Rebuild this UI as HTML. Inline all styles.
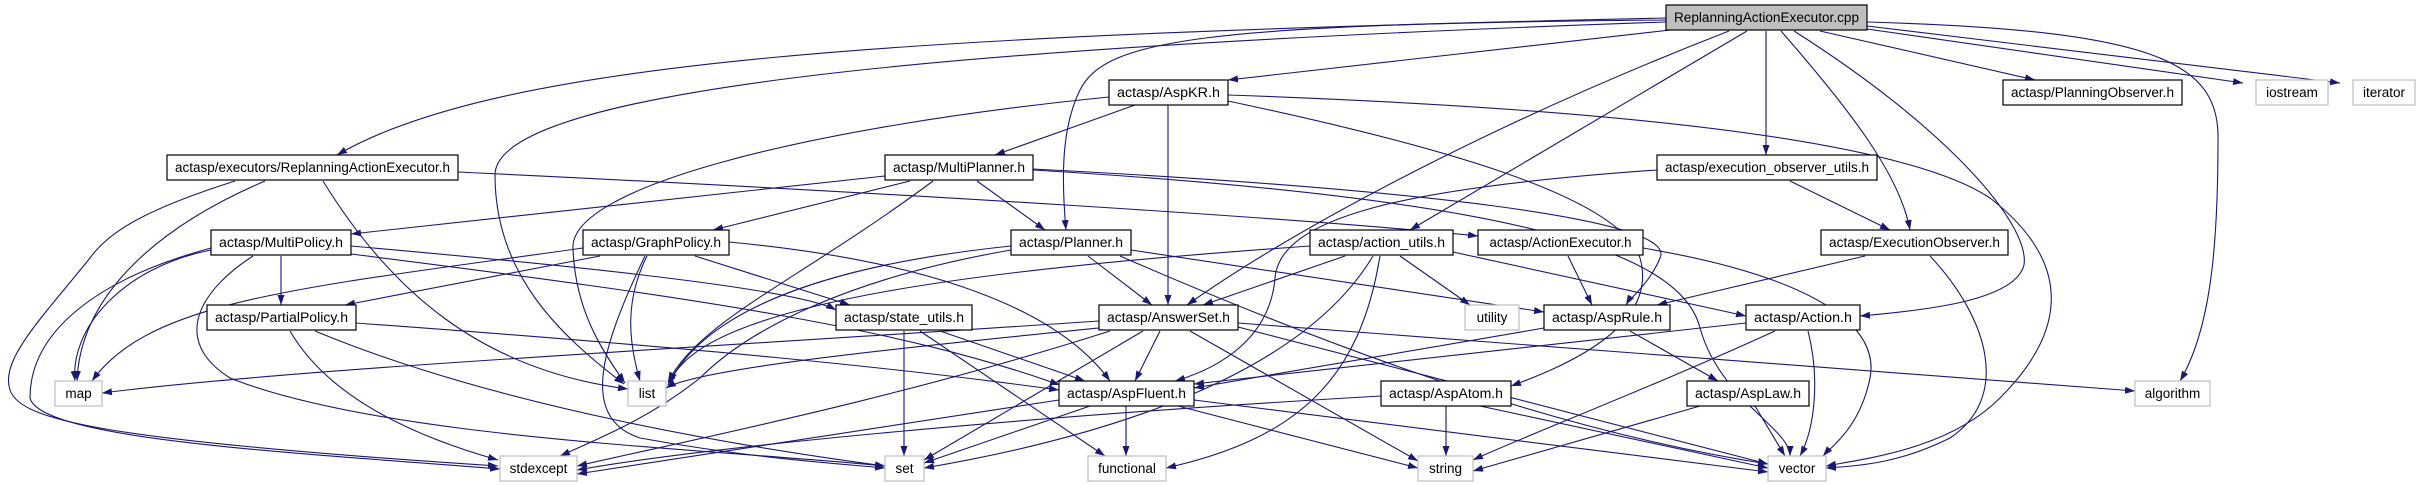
<!DOCTYPE html>
<html><head><meta charset="utf-8"><style>
html,body{margin:0;padding:0;background:#fff;}
svg{display:block;}
text{font-family:"Liberation Sans",sans-serif;font-size:13.5px;fill:#000;text-anchor:middle;}
.n{fill:#fff;stroke:#000;stroke-width:1.2;}
.g{fill:#fff;stroke:#bfbfbf;stroke-width:1.2;}
.m{fill:#bfbfbf;stroke:#000;stroke-width:1.2;}
path.e{fill:none;stroke:#191970;stroke-width:1.1;marker-end:url(#a);}
</style></head><body>
<svg width="2422" height="485" viewBox="0 0 2422 485" xmlns="http://www.w3.org/2000/svg">
<defs><marker id="a" markerUnits="userSpaceOnUse" markerWidth="11" markerHeight="8" refX="10" refY="3.5" orient="auto"><path d="M0,0 L10,3.5 L0,7 z" fill="#191970"/></marker></defs>
<g>
<!-- cpp -->
<path class="e" d="M1666,18 C900,35 500,60 337,155"/>
<path class="e" d="M1666,22 C1000,45 495,85 495,175 C495,275 560,335 624,384"/>
<path class="e" d="M1666,20 C1200,24 1105,40 1080,90 C1060,130 1062,185 1066,230"/>
<path class="e" d="M1670,30 L1228,80"/>
<path class="e" d="M1729,31 C1500,120 1300,225 1187,305"/>
<path class="e" d="M1747,31 L1410,230"/>
<path class="e" d="M1766,31 L1766,155"/>
<path class="e" d="M1781,31 C1850,110 1900,175 1910,230"/>
<path class="e" d="M1794,31 C1950,130 2030,225 2024,265 C2015,300 1930,310 1860,316"/>
<path class="e" d="M1820,31 L2035,80"/>
<path class="e" d="M1867,29 L2243,83"/>
<path class="e" d="M1867,26 L2340,83"/>
<path class="e" d="M1867,22 C2150,30 2220,60 2218,140 C2218,250 2210,330 2180,381"/>
<!-- RAE -->
<path class="e" d="M265,181 C150,230 80,300 77,381"/>
<path class="e" d="M235,181 C150,208 110,230 90,258 C40,320 0,360 10,390 C20,420 100,440 498,466"/>
<path class="e" d="M323,181 C390,290 480,370 628,389"/>
<path class="e" d="M458,172 C900,193 1300,218 1478,236"/>
<!-- MultiPlanner -->
<path class="e" d="M885,176 L351,234"/>
<path class="e" d="M910,181 L713,230"/>
<path class="e" d="M977,181 L1045,230"/>
<path class="e" d="M933,181 C800,280 700,320 668,382"/>
<path class="e" d="M1033,169 C1400,188 1680,218 1660,258 C1650,283 1630,298 1626,305"/>
<path class="e" d="M1033,170 C1500,198 1680,248 1700,328 C1720,400 1790,428 1790,456"/>
<!-- MultiPolicy -->
<path class="e" d="M211,250 C120,268 70,330 75,381"/>
<path class="e" d="M211,248 C100,278 30,330 30,398 C40,440 300,453 500,469"/>
<path class="e" d="M281,256 L281,305"/>
<path class="e" d="M253,256 C200,290 170,340 230,378 C380,438 700,448 885,466"/>
<path class="e" d="M351,246 C600,268 800,290 836,310"/>
<path class="e" d="M351,254 C700,298 900,328 1060,385"/>
<!-- GraphPolicy -->
<path class="e" d="M583,248 C300,288 150,300 92,381"/>
<path class="e" d="M600,256 L345,305"/>
<path class="e" d="M647,256 C625,300 628,340 640,381"/>
<path class="e" d="M645,256 C600,350 580,418 640,438 C750,458 830,463 885,468"/>
<path class="e" d="M695,256 L850,305"/>
<path class="e" d="M729,242 C900,258 1050,298 1110,381"/>
<!-- PartialPolicy -->
<path class="e" d="M290,331 C330,400 420,438 498,460"/>
<path class="e" d="M315,331 C500,408 750,448 885,466"/>
<path class="e" d="M356,323 C700,348 900,368 1059,390"/>
<!-- Planner -->
<path class="e" d="M1088,256 L1152,305"/>
<path class="e" d="M1131,250 L1544,312"/>
<path class="e" d="M1011,246 C800,268 700,320 668,385"/>
<path class="e" d="M1011,250 C850,278 750,328 700,378 C650,418 600,438 560,456"/>
<path class="e" d="M1120,256 C1400,378 1600,438 1768,464"/>
<!-- AspKR -->
<path class="e" d="M1135,105 L995,155"/>
<path class="e" d="M1168,105 L1168,305"/>
<path class="e" d="M1109,97 C800,128 570,188 573,248 C575,308 600,348 625,383"/>
<path class="e" d="M1228,101 C1450,148 1620,198 1640,258 C1660,328 1560,368 1511,386"/>
<path class="e" d="M1228,95 C1600,108 1900,138 1990,198 C2080,268 2060,338 2000,398 C1950,448 1870,458 1826,466"/>
<!-- action_utils -->
<path class="e" d="M1345,256 L1203,305"/>
<path class="e" d="M1400,256 L1470,305"/>
<path class="e" d="M1453,252 L1746,316"/>
<path class="e" d="M1310,246 C1000,268 700,300 670,383"/>
<path class="e" d="M1373,256 C1300,378 1100,438 924,468"/>
<path class="e" d="M1380,256 C1360,378 1300,438 1166,468"/>
<!-- ActionExecutor -->
<path class="e" d="M1568,256 L1592,305"/>
<path class="e" d="M1643,248 C1820,278 1880,328 1870,378 C1860,428 1830,448 1823,456"/>
<!-- exec obs utils -->
<path class="e" d="M1790,181 L1890,230"/>
<path class="e" d="M1657,170 C1400,188 1280,218 1275,278 C1270,338 1220,368 1175,381"/>
<!-- ExecutionObserver -->
<path class="e" d="M1865,256 L1657,305"/>
<path class="e" d="M1930,256 C1990,320 2010,398 1950,438 C1900,463 1860,466 1826,468"/>
<!-- state_utils -->
<path class="e" d="M904,331 L904,456"/>
<path class="e" d="M920,331 L1105,456"/>
<path class="e" d="M940,331 L1085,381"/>
<!-- AnswerSet -->
<path class="e" d="M1160,331 L1135,381"/>
<path class="e" d="M1099,321 C700,348 300,368 102,393"/>
<path class="e" d="M1099,328 C900,348 700,368 666,388"/>
<path class="e" d="M1143,331 L924,460"/>
<path class="e" d="M1110,331 C900,398 700,438 577,466"/>
<path class="e" d="M1190,331 L1418,461"/>
<path class="e" d="M1238,327 L1768,464"/>
<path class="e" d="M1238,323 L2135,391"/>
<!-- AspRule -->
<path class="e" d="M1544,328 L1194,388"/>
<path class="e" d="M1630,331 L1718,381"/>
<!-- Action -->
<path class="e" d="M1746,323 L1194,384"/>
<path class="e" d="M1775,331 C1650,388 1520,438 1473,460"/>
<path class="e" d="M1808,331 C1820,378 1815,428 1800,456"/>
<!-- AspFluent -->
<path class="e" d="M1090,406 L924,463"/>
<path class="e" d="M1126,406 L1126,456"/>
<path class="e" d="M1178,406 L1418,468"/>
<path class="e" d="M1194,400 L1768,472"/>
<path class="e" d="M1059,400 L577,474"/>
<!-- AspAtom -->
<path class="e" d="M1381,396 C1000,418 700,448 577,470"/>
<path class="e" d="M1446,406 L1446,456"/>
<path class="e" d="M1480,406 L1768,468"/>
<!-- AspLaw -->
<path class="e" d="M1700,406 L1473,471"/>
<path class="e" d="M1755,406 L1785,456"/>
</g>
<g>
<rect class="m" x="1666" y="5" width="201" height="25"/><text x="1766.5" y="22" textLength="185" lengthAdjust="spacingAndGlyphs">ReplanningActionExecutor.cpp</text>
<rect class="n" x="167" y="155" width="291" height="25"/><text x="312.5" y="172" textLength="275" lengthAdjust="spacingAndGlyphs">actasp/executors/ReplanningActionExecutor.h</text>
<rect class="n" x="211" y="230" width="140" height="25"/><text x="281" y="247" textLength="124" lengthAdjust="spacingAndGlyphs">actasp/MultiPolicy.h</text>
<rect class="n" x="583" y="230" width="146" height="25"/><text x="656" y="247" textLength="130" lengthAdjust="spacingAndGlyphs">actasp/GraphPolicy.h</text>
<rect class="n" x="207" y="305" width="149" height="25"/><text x="281.5" y="322" textLength="133" lengthAdjust="spacingAndGlyphs">actasp/PartialPolicy.h</text>
<rect class="g" x="55" y="381" width="47" height="25"/><text x="78.5" y="398">map</text>
<rect class="g" x="628" y="381" width="38" height="25"/><text x="647" y="398">list</text>
<rect class="g" x="500" y="456" width="77" height="25"/><text x="538.5" y="473">stdexcept</text>
<rect class="n" x="1109" y="80" width="119" height="25"/><text x="1168.5" y="97" textLength="103" lengthAdjust="spacingAndGlyphs">actasp/AspKR.h</text>
<rect class="n" x="885" y="155" width="148" height="25"/><text x="959" y="172" textLength="132" lengthAdjust="spacingAndGlyphs">actasp/MultiPlanner.h</text>
<rect class="n" x="1011" y="230" width="120" height="25"/><text x="1071" y="247" textLength="104" lengthAdjust="spacingAndGlyphs">actasp/Planner.h</text>
<rect class="n" x="1310" y="230" width="143" height="25"/><text x="1381.5" y="247" textLength="127" lengthAdjust="spacingAndGlyphs">actasp/action_utils.h</text>
<rect class="n" x="1478" y="230" width="165" height="25"/><text x="1560.5" y="247" textLength="142" lengthAdjust="spacingAndGlyphs">actasp/ActionExecutor.h</text>
<rect class="n" x="836" y="305" width="136" height="25"/><text x="904" y="322" textLength="120" lengthAdjust="spacingAndGlyphs">actasp/state_utils.h</text>
<rect class="n" x="1099" y="305" width="139" height="25"/><text x="1168.5" y="322" textLength="123" lengthAdjust="spacingAndGlyphs">actasp/AnswerSet.h</text>
<rect class="g" x="1465" y="305" width="54" height="25"/><text x="1492" y="322">utility</text>
<rect class="n" x="1544" y="305" width="126" height="25"/><text x="1607" y="322" textLength="110" lengthAdjust="spacingAndGlyphs">actasp/AspRule.h</text>
<rect class="n" x="1059" y="381" width="135" height="25"/><text x="1126.5" y="398" textLength="119" lengthAdjust="spacingAndGlyphs">actasp/AspFluent.h</text>
<rect class="n" x="1381" y="381" width="130" height="25"/><text x="1446" y="398" textLength="114" lengthAdjust="spacingAndGlyphs">actasp/AspAtom.h</text>
<rect class="g" x="885" y="456" width="39" height="25"/><text x="904.5" y="473">set</text>
<rect class="g" x="1088" y="456" width="78" height="25"/><text x="1127" y="473">functional</text>
<rect class="g" x="1418" y="456" width="55" height="25"/><text x="1445.5" y="473">string</text>
<rect class="n" x="2003" y="80" width="179" height="25"/><text x="2092.5" y="97" textLength="163" lengthAdjust="spacingAndGlyphs">actasp/PlanningObserver.h</text>
<rect class="g" x="2256" y="80" width="72" height="25"/><text x="2292" y="97">iostream</text>
<rect class="g" x="2353" y="80" width="62" height="25"/><text x="2384" y="97">iterator</text>
<rect class="n" x="1657" y="155" width="220" height="25"/><text x="1767" y="172" textLength="204" lengthAdjust="spacingAndGlyphs">actasp/execution_observer_utils.h</text>
<rect class="n" x="1821" y="230" width="187" height="25"/><text x="1914.5" y="247" textLength="171" lengthAdjust="spacingAndGlyphs">actasp/ExecutionObserver.h</text>
<rect class="n" x="1746" y="305" width="114" height="25"/><text x="1803" y="322" textLength="98" lengthAdjust="spacingAndGlyphs">actasp/Action.h</text>
<rect class="n" x="1687" y="381" width="122" height="25"/><text x="1748" y="398" textLength="106" lengthAdjust="spacingAndGlyphs">actasp/AspLaw.h</text>
<rect class="g" x="2135" y="381" width="75" height="25"/><text x="2172.5" y="398">algorithm</text>
<rect class="g" x="1768" y="456" width="58" height="25"/><text x="1797" y="473">vector</text>
</g>
</svg>
</body></html>
